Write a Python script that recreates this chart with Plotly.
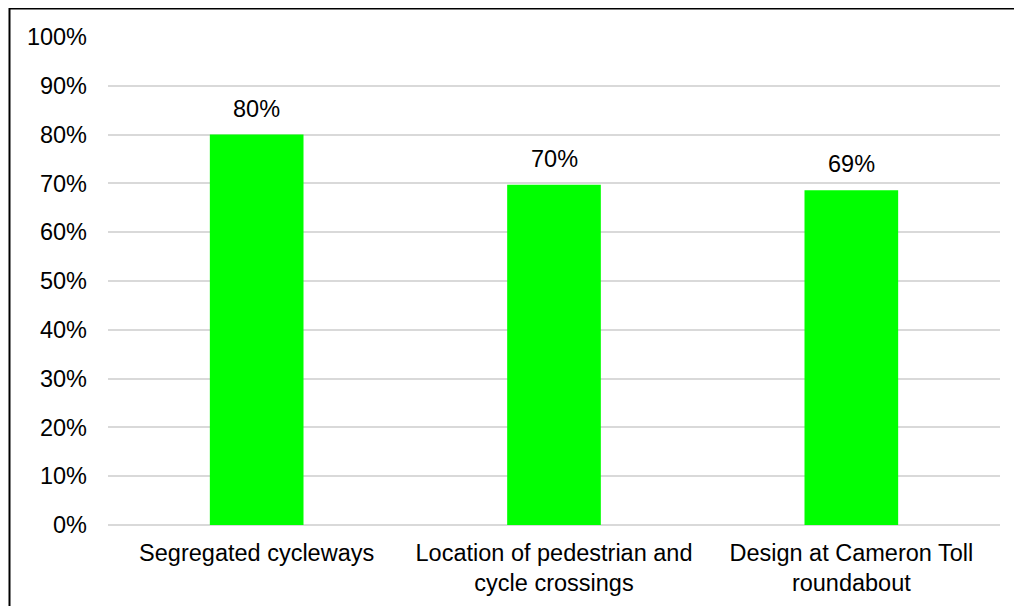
import plotly.graph_objects as go

categories = ["Segregated cycleways", "Location of pedestrian and<br>cycle crossings", "Design at Cameron Toll<br>roundabout"]
values = [0.80, 0.697, 0.686]
labels = ["80%", "70%", "69%"]
y_ticks = [i / 10 for i in range(11)]

W, H = 1022, 606
L, R, T, B = 100, 30, 29, 89
pw, ph = W - L - R, H - T - B
FONT = "Liberation Sans, Arial"
FS = 23.5

fig = go.Figure(go.Bar(
    x=categories, y=values,
    marker=dict(color="#00ff00", line=dict(width=0)),
    width=0.315, hoverinfo="x+y",
))

for c, v, t in zip(categories, values, labels):
    fig.add_annotation(x=c, y=v, text=t, showarrow=False, xref="x", yref="y",
                       yanchor="bottom", yshift=11,
                       font=dict(family=FONT, size=FS, color="#000000"))

def px_x(p):
    return (p - L) / pw

def px_y(p):
    return (H - B - p) / ph

fig.add_shape(type="rect", xref="paper", yref="paper",
              x0=px_x(1.5), x1=px_x(1030), y0=px_y(620), y1=px_y(0.5),
              line=dict(color="#000000", width=2), fillcolor="rgba(0,0,0,0)")

fig.update_layout(
    width=W, height=H,
    margin=dict(l=L, r=R, t=T, b=B, pad=0),
    paper_bgcolor="white", plot_bgcolor="white",
    font=dict(family=FONT, size=FS, color="#000000"),
    showlegend=False,
    xaxis=dict(showgrid=False, showline=False, zeroline=False, ticks="",
               tickfont=dict(size=FS), ticklabelstandoff=11),
    yaxis=dict(range=[0, 1], tickvals=y_ticks, tickformat=".0%",
               showgrid=True, gridcolor="#d9d9d9", gridwidth=1.5,
               zeroline=True, zerolinecolor="#d9d9d9", zerolinewidth=1.5,
               showline=False, ticks="", tickfont=dict(size=FS),
               ticklabelstandoff=20),
)

fig.write_html("out.html")
